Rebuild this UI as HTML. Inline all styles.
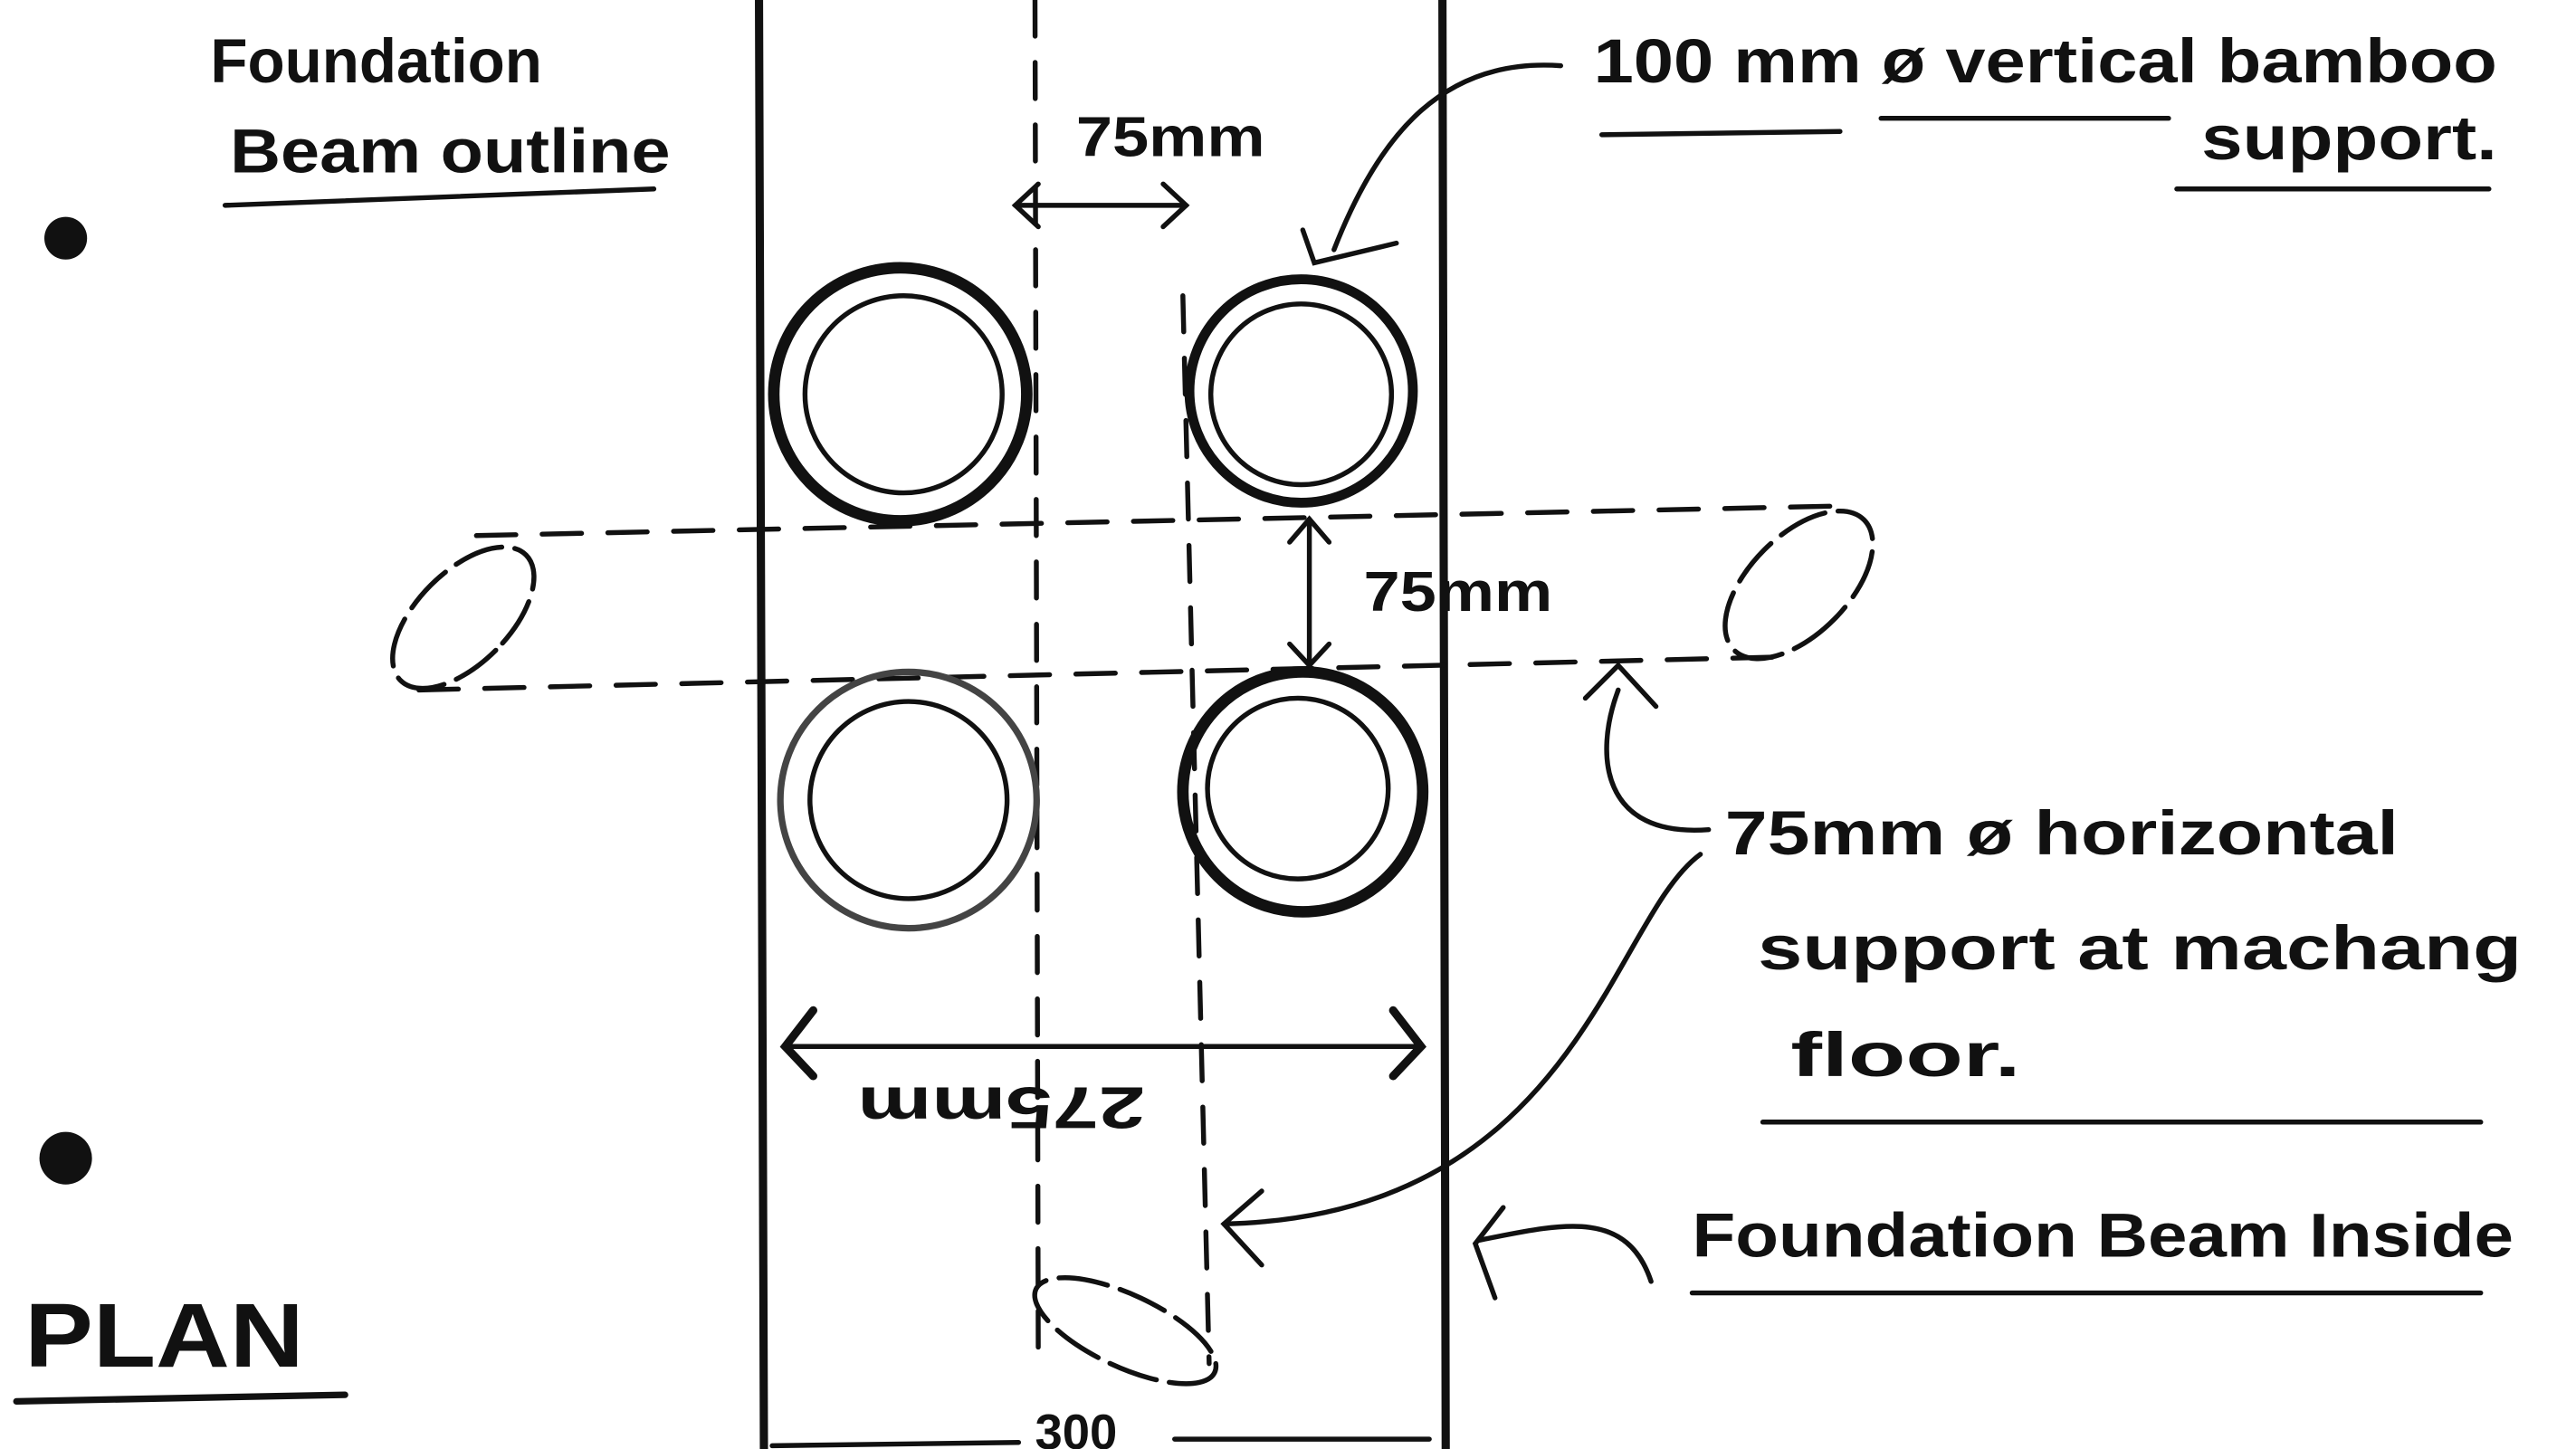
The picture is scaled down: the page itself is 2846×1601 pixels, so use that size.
<!DOCTYPE html>
<html><head><meta charset="utf-8"><style>
html,body{margin:0;padding:0;background:#fff;}
svg{display:block;}
text{font-family:"Liberation Sans",sans-serif;fill:#111;font-weight:bold;}
</style></head><body>
<svg width="2846" height="1601" viewBox="0 0 1568 882" preserveAspectRatio="none" xmlns="http://www.w3.org/2000/svg">
<rect width="1568" height="882" fill="#fff"/>
<g stroke="#111" fill="none" stroke-linecap="round">
<line x1="462" y1="0" x2="465" y2="882" stroke-width="5"/>
<line x1="878" y1="0" x2="880" y2="882" stroke-width="5"/>
<line x1="630" y1="0" x2="632" y2="830" stroke-width="3" stroke-dasharray="22 16"/>
<line x1="720" y1="180" x2="736" y2="830" stroke-width="3" stroke-dasharray="22 16"/>
<line x1="290" y1="326" x2="1120" y2="308" stroke-width="3" stroke-dasharray="24 16"/>
<line x1="255" y1="420" x2="1080" y2="400" stroke-width="3" stroke-dasharray="24 16"/>
<ellipse cx="282" cy="376" rx="28" ry="54" transform="rotate(45 282 376)" stroke-width="3" stroke-dasharray="30 8"/>
<ellipse cx="1095" cy="356" rx="30" ry="56" transform="rotate(45 1095 356)" stroke-width="3" stroke-dasharray="30 8"/>
<ellipse cx="685" cy="810" rx="60" ry="22" transform="rotate(25 685 810)" stroke-width="3" stroke-dasharray="30 8"/>
<circle cx="548" cy="240" r="77" stroke-width="7"/><circle cx="550" cy="240" r="60" stroke-width="3"/>
<circle cx="792" cy="238" r="68" stroke-width="6"/><circle cx="792" cy="240" r="55" stroke-width="3"/>
<circle cx="553" cy="487" r="78" stroke-width="4" stroke="#444"/><circle cx="553" cy="487" r="60" stroke-width="3"/>
<circle cx="793" cy="482" r="73" stroke-width="7"/><circle cx="790" cy="480" r="55" stroke-width="3"/>
<line x1="618" y1="125" x2="722" y2="125" stroke-width="3"/>
<path d="M632 112 L618 125 L632 138 M708 112 L722 125 L708 138" stroke-width="3"/>
<line x1="797" y1="316" x2="797" y2="405" stroke-width="3"/>
<path d="M785 330 L797 316 L809 330 M785 392 L797 405 L809 392" stroke-width="3"/>
<line x1="478" y1="637" x2="865" y2="637" stroke-width="3"/>
<path d="M495 615 L478 637 L495 655 M848 615 L865 637 L848 655" stroke-width="5"/>
<line x1="470" y1="880" x2="620" y2="878" stroke-width="3"/>
<line x1="715" y1="876" x2="870" y2="876" stroke-width="3"/>
<path d="M950 40 C880 35 840 80 812 152" stroke-width="3"/>
<path d="M793 140 L800 160 L850 148" stroke-width="3"/>
<path d="M1040 505 C975 510 970 460 985 420" stroke-width="3"/>
<path d="M965 425 L985 405 L1008 430" stroke-width="3"/>
<path d="M1035 520 C980 560 960 740 745 745" stroke-width="3"/>
<path d="M768 725 L745 745 L768 770" stroke-width="3"/>
<path d="M1005 780 C990 735 950 745 900 755" stroke-width="3"/>
<path d="M915 735 L898 757 L910 790" stroke-width="3"/>
<line x1="137" y1="125" x2="398" y2="115" stroke-width="3"/>
<line x1="975" y1="82" x2="1120" y2="80" stroke-width="3"/>
<line x1="1145" y1="72" x2="1320" y2="72" stroke-width="3"/>
<line x1="1325" y1="115" x2="1515" y2="115" stroke-width="3"/>
<line x1="1073" y1="683" x2="1510" y2="683" stroke-width="3"/>
<line x1="1030" y1="787" x2="1510" y2="787" stroke-width="3"/>
<line x1="10" y1="853" x2="210" y2="849" stroke-width="4"/>
</g>
<circle cx="40" cy="145" r="13" fill="#111"/>
<circle cx="40" cy="705" r="16" fill="#111"/>
<g font-size="38">
<text x="128" y="50" textLength="202" lengthAdjust="spacingAndGlyphs">Foundation</text>
<text x="140" y="105" textLength="268" lengthAdjust="spacingAndGlyphs">Beam outline</text>
<text x="655" y="95" font-size="34" textLength="115" lengthAdjust="spacingAndGlyphs">75mm</text>
<text x="830" y="372" font-size="34" textLength="115" lengthAdjust="spacingAndGlyphs">75mm</text>
<text x="970" y="50" textLength="550" lengthAdjust="spacingAndGlyphs">100 mm ø vertical bamboo</text>
<text x="1340" y="97" textLength="180" lengthAdjust="spacingAndGlyphs">support.</text>
<text x="1050" y="520" textLength="410" lengthAdjust="spacingAndGlyphs">75mm ø horizontal</text>
<text x="1070" y="590" textLength="465" lengthAdjust="spacingAndGlyphs">support at machang</text>
<text x="1090" y="655" textLength="140" lengthAdjust="spacingAndGlyphs">floor.</text>
<text x="1030" y="765" textLength="500" lengthAdjust="spacingAndGlyphs">Foundation Beam Inside</text>
<text x="15" y="832" font-size="55" textLength="170" lengthAdjust="spacingAndGlyphs">PLAN</text>
<text x="0" y="0" font-size="36" textLength="175" lengthAdjust="spacingAndGlyphs" transform="translate(697 662) rotate(180)">275mm</text>
<text x="630" y="882" font-size="30">300</text>
</g>
</svg>
</body></html>
